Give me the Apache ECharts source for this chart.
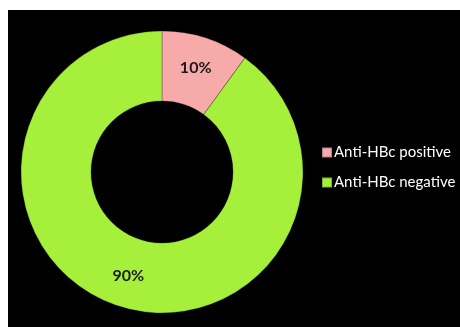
<!DOCTYPE html>
<html>
<head>
<meta charset="utf-8">
<script src="https://cdn.jsdelivr.net/npm/echarts@6/dist/echarts.min.js"></script>
<style>html,body{margin:0;padding:0;background:#fff}#c{width:460px;height:327px}</style>
</head>
<body>
<div id="c"></div>
<script>
const categories = ["Anti-HBc positive", "Anti-HBc negative"];
const values = [10, 90];
const colors = ["#f7aaaa", "#a6f03c"];

const chart = echarts.init(document.getElementById('c'));
chart.setOption({
  animation: false,
  backgroundColor: '#ffffff',
  graphic: [{type: 'rect', shape: {x: 8, y: 10, width: 452, height: 317}, style: {fill: '#000000'}, z: -10}],
  legend: {
    orient: 'vertical',
    left: 316,
    top: 140,
    itemWidth: 10,
    itemHeight: 10,
    itemGap: 15,
    icon: 'rect',
    data: categories,
    textStyle: {color: '#ffffff', fontSize: 15, fontFamily: 'Lato', padding: [0,0,0,-3]}
  },
  series: [{
    type: 'pie',
    center: [162, 172],
    radius: [71, 141],
    startAngle: 90,
    clockwise: true,
    label: {
      show: true,
      position: 'inside',
      formatter: '{c}%',
      color: '#1a1a1a',
      fontSize: 16,
      fontWeight: 'bold',
      fontFamily: 'Lato'
    },
    labelLine: {show: false},
    itemStyle: {borderColor: 'rgba(0,0,0,0.25)', borderWidth: 1},
    emphasis: {disabled: true},
    data: categories.map((n, i) => ({name: n, value: values[i], itemStyle: {color: colors[i]}}))
  }]
});
</script>
</body>
</html>
